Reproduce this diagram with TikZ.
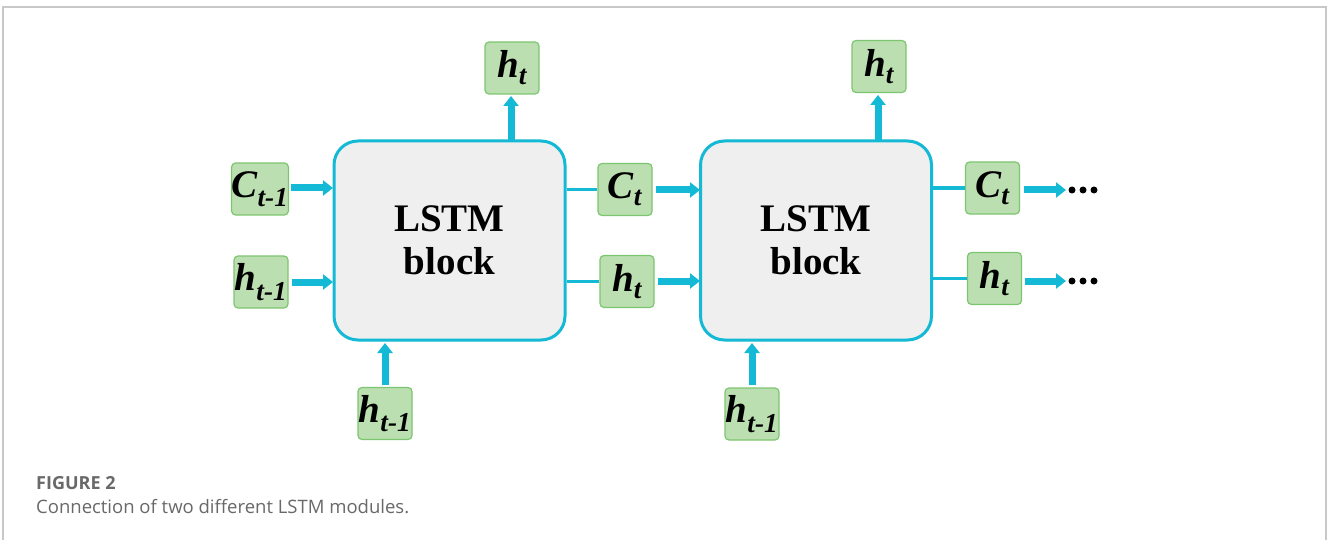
\documentclass[tikz,border=0pt]{standalone}
\usepackage{fontspec}
\setmainfont{Liberation Serif}
\newfontfamily\capfont{Open Sans}
\usetikzlibrary{arrows.meta}
\definecolor{lcyan}{RGB}{20,185,213}
\definecolor{gfill}{RGB}{187,223,176}
\definecolor{gdraw}{RGB}{125,198,112}
\definecolor{bfill}{RGB}{239,239,239}
\definecolor{capgray}{RGB}{105,105,105}
\definecolor{framegray}{RGB}{200,200,200}
\tikzset{
  x=1pt,y=-1pt,
  lstm/.style={draw=lcyan,line width=3pt,fill=bfill,rounded corners=24pt,minimum width=231pt,minimum height=199pt,inner sep=0pt,align=center,font=\fontsize{39}{43}\selectfont\bfseries},
  var/.style={draw=gdraw,line width=1.2pt,fill=gfill,rounded corners=4pt,minimum width=54pt,minimum height=52pt,inner sep=0pt,font=\fontsize{39}{40}\selectfont\bfseries\itshape},
  flow/.style={draw=lcyan,line width=7pt,-{Triangle[width=15pt,length=10pt]}},
  thin/.style={draw=lcyan,line width=3.5pt},
  dot/.style={circle,fill=black,inner sep=0pt,minimum size=7pt},
}
\begin{document}
\begin{tikzpicture}
\useasboundingbox (0,0) rectangle (1327,540);
\fill[white] (0,0) rectangle (1327,540);
\draw[framegray,line width=1.5pt] (3,540) -- (3,7) -- (1326,7) -- (1326,540);
% blocks
\node[lstm] (b1) at (449.5,240.5) {LSTM\\block};
\node[lstm] (b2) at (816,240.5) {LSTM\\block};
% variable boxes
\node[var] (top1) at (512,68) {h\textsubscript{t}};
\node[var] (top2) at (879,66.5) {h\textsubscript{t}};
\node[var] (cin) at (260,189) {C\textsubscript{t-1}};
\node[var] (hin) at (261,282) {h\textsubscript{t-1}};
\node[var] (cmid) at (625,189.5) {C\textsubscript{t}};
\node[var] (hmid) at (627,281.5) {h\textsubscript{t}};
\node[var] (cout) at (992.5,188) {C\textsubscript{t}};
\node[var] (hout) at (994.5,278.5) {h\textsubscript{t}};
\node[var] (bot1) at (385,413.5) {h\textsubscript{t-1}};
\node[var] (bot2) at (752,414) {h\textsubscript{t-1}};
% coordinates
\coordinate (c1in) at (291,188);
\coordinate (c1end) at (333,188);
\coordinate (h1in) at (292,282);
\coordinate (h1end) at (333,282);
\coordinate (u1s) at (511,140);
\coordinate (u1e) at (511,96);
\coordinate (d1s) at (385,385);
\coordinate (d1e) at (385,343);
\coordinate (u2s) at (878,140);
\coordinate (u2e) at (878,95);
\coordinate (d2s) at (752,385);
\coordinate (d2e) at (752,343);
\coordinate (c2in) at (656,190);
\coordinate (c2end) at (700,190);
\coordinate (h2in) at (658,281);
\coordinate (h2end) at (700,281);
\coordinate (c3in) at (1024,190);
\coordinate (c3end) at (1066,190);
\coordinate (h3in) at (1025,281);
\coordinate (h3end) at (1066,281);
% arrows
\draw[flow] (c1in) -- (c1end);
\draw[flow] (h1in) -- (h1end);
\draw[flow] (u1s) -- (u1e);
\draw[flow] (d1s) -- (d1e);
\draw[flow] (u2s) -- (u2e);
\draw[flow] (d2s) -- (d2e);
\draw[flow] (c2in) -- (c2end);
\draw[flow] (h2in) -- (h2end);
\draw[flow] (c3in) -- (c3end);
\draw[flow] (h3in) -- (h3end);
% thin connectors
\draw[thin] (b1.east |- cmid) -- (cmid.west);
\draw[thin] (b1.east |- hmid) -- (hmid.west);
\draw[thin] (b2.east |- cout) -- (cout.west);
\draw[thin] (b2.east |- hout) -- (hout.west);
% dots
\foreach \xx [count=\i] in {1072,1083,1094} {
  \node[dot] (dc\i) at (\xx,190) {};
  \node[dot] (dh\i) at (\xx,281) {};
}
% caption
\node[anchor=base west,inner sep=0pt,text=capgray,font=\capfont\fontsize{18}{20}\selectfont\bfseries] (fig) at (36,489) {FIGURE 2};
\node[anchor=base west,inner sep=0pt,text=capgray,font=\capfont\fontsize{18.5}{20}\selectfont] (cap) at (36,513) {Connection of two different LSTM modules.};
\end{tikzpicture}
\end{document}
